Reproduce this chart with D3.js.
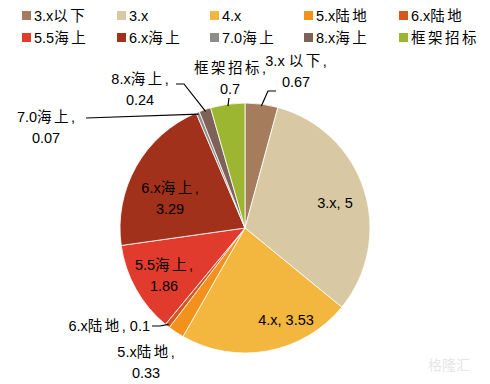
<!DOCTYPE html>
<html>
<head>
<meta charset="utf-8">
<script src="https://cdn.jsdelivr.net/npm/d3@7"></script>
<style>
  body { margin: 0; background: #fff; }
  text { font-family: "Liberation Sans", Arial, "Noto Sans CJK SC", sans-serif; fill: #000; }
</style>
</head>
<body>
<div id="chart"></div>
<script>
/* chart data */
var categories = ["3.x以下", "3.x", "4.x", "5.x陆地", "6.x陆地", "5.5海上", "6.x海上", "7.0海上", "8.x海上", "框架招标"]
var values = [0.67, 5, 3.53, 0.33, 0.1, 1.86, 3.29, 0.07, 0.24, 0.7]

var colors = ["#A67D5C", "#D8C9A4", "#F3B63F", "#F2921C", "#D6561E", "#E03B2D", "#A2311B", "#8E8C8A", "#7F6257", "#9DB632"]

/* label layout: lines of text and where they go, plus leader start point */
var labelLayout = [
  { lines: ["3.x 以下,", "0.67"], x: 296, y: 66, anchor: "middle", lead: [[276, 91], [268, 91]] },
  { lines: ["3.x, 5"], x: 335, y: 208, anchor: "middle" },
  { lines: ["4.x, 3.53"], x: 286, y: 325, anchor: "middle" },
  { lines: ["5.x陆地,", "0.33"], x: 146, y: 357, anchor: "middle" },
  { lines: ["6.x陆地, 0.1"], x: 150, y: 331, anchor: "end", lead: [[152, 326], [160, 326]] },
  { lines: ["5.5海上,", "1.86"], x: 164, y: 270, anchor: "middle" },
  { lines: ["6.x海上,", "3.29"], x: 170, y: 193, anchor: "middle" },
  { lines: ["7.0海上,", "0.07"], x: 46, y: 122, anchor: "middle", lead: [[86, 118]] },
  { lines: ["8.x海上,", "0.24"], x: 140, y: 84, anchor: "middle", lead: [[176, 84], [184, 84]] },
  { lines: ["框架招标,", "0.7"], x: 230, y: 73, anchor: "middle", lead: [[229, 98]] }
]

var width = 490, height = 384
var cx = 245, cy = 228, radius = 125

var svg = d3.select("#chart").append("svg")
  .attr("width", width)
  .attr("height", height)

/* split a string into runs so chinese chars get wider spacing like the original */
function addRuns(sel, s) {
  var runs = s.match(/[\u4e00-\u9fff]+|[^\u4e00-\u9fff]+/g) || []
  runs.forEach(function(r) {
    var cjk = /[\u4e00-\u9fff]/.test(r)
    sel.append("tspan")
      .attr("letter-spacing", cjk ? 2.5 : 0)
      .text(r)
  })
}

/* legend */
var legendCols = [22, 117, 210, 304, 399]
var legendRows = [16, 38]
var legend = svg.append("g").attr("class", "legend")
categories.forEach(function(c, i) {
  var col = i % 5, row = Math.floor(i / 5)
  var g = legend.append("g")
    .attr("transform", "translate(" + legendCols[col] + "," + legendRows[row] + ")")
  g.append("rect")
    .attr("x", 0).attr("y", -5)
    .attr("width", 9).attr("height", 9)
    .attr("fill", colors[i])
  var t = g.append("text")
    .attr("x", 12).attr("y", 5)
    .attr("font-size", 14.5)
  addRuns(t, c)
})

/* pie */
var pie = d3.pie().sort(null).value(function(d) { return d })
var arcs = pie(values)
var arc = d3.arc().innerRadius(0).outerRadius(radius)
var edgeArc = d3.arc().innerRadius(radius - 2).outerRadius(radius - 2)

var pieG = svg.append("g").attr("transform", "translate(" + cx + "," + cy + ")")
pieG.selectAll("path")
  .data(arcs)
  .enter()
  .append("path")
  .attr("d", arc)
  .attr("fill", function(d, i) { return colors[i] })
  .attr("stroke", "#fff")
  .attr("stroke-width", 0.8)

/* leader lines */
var line = d3.line()
arcs.forEach(function(d, i) {
  var lay = labelLayout[i]
  if (!lay.lead) return
  var e = edgeArc.centroid(d)
  var pts = lay.lead.concat([[cx + e[0], cy + e[1]]])
  svg.append("path")
    .attr("d", line(pts))
    .attr("fill", "none")
    .attr("stroke", "#000")
    .attr("stroke-width", 1.2)
})

/* labels */
labelLayout.forEach(function(lay) {
  var t = svg.append("text")
    .attr("x", lay.x).attr("y", lay.y)
    .attr("text-anchor", lay.anchor)
    .attr("font-size", 14.5)
  lay.lines.forEach(function(s, k) {
    var ts = t.append("tspan")
      .attr("x", lay.x)
      .attr("dy", k === 0 ? 0 : 21)
    addRuns(ts, s)
  })
})

/* watermark */
svg.append("text")
  .attr("x", 470).attr("y", 370)
  .attr("text-anchor", "end")
  .attr("font-size", 14)
  .style("fill", "#e6e6e6")
  .text("格隆汇")
</script>
</body>
</html>
